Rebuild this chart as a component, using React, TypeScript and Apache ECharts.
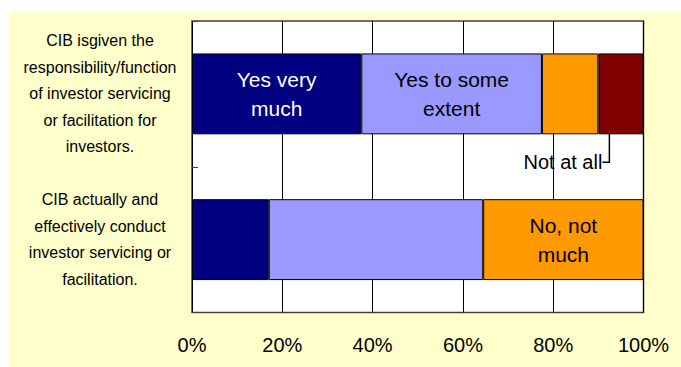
import React, { useEffect, useRef } from "react";
import * as echarts from "echarts";

const categories = [
  "CIB isgiven the\nresponsibility/function\nof investor servicing\nor facilitation for\ninvestors.",
  "CIB actually and\neffectively conduct\ninvestor servicing or\nfacilitation.",
];
const seriesNames = ["Yes very much", "Yes to some extent", "No, not much", "Not at all"];
const yesVeryMuch = [37.5, 17];
const yesToSomeExtent = [40, 47.5];
const noNotMuch = [12.5, 35.5];
const notAtAll = [10, 0];
const labelTexts = ["Yes very\nmuch", "Yes to some\nextent", "No, not\nmuch", "Not at all"];
const labelIndex = [0, 0, 1, 0];
const tickValues = [0, 20, 40, 60, 80, 100];

const colors = ["#000080", "#9999FF", "#FF9900", "#800000"];
const FONT = "'Liberation Sans', Arial, sans-serif";

export default function App() {
  const ref = useRef<HTMLDivElement>(null);
  useEffect(() => {
    if (!ref.current) return;
    const chart = echarts.init(ref.current, null, { renderer: "svg" });
    const allValues = [yesVeryMuch, yesToSomeExtent, noNotMuch, notAtAll];
    const series = allValues.map((vals, si) => {
      const isOutside = si === 3;
      return {
        name: seriesNames[si],
        type: "bar",
        stack: "total",
        barWidth: "55.5%",
        itemStyle: { color: colors[si], borderColor: "#000", borderWidth: 1 },
        data: vals.map((v, di) => {
          if (di !== labelIndex[si]) return v;
          return {
            value: v,
            label: {
              show: true,
              formatter: labelTexts[si],
              position: isOutside ? "bottom" : "inside",
              distance: 5,
              color: si === 0 ? "#fff" : "#000",
              fontFamily: FONT,
              fontSize: isOutside ? 20 : 21,
              lineHeight: isOutside ? 20 : 29,
            },
            labelLine: isOutside
              ? { show: true, length2: 7, lineStyle: { color: "#000", width: 1.5 } }
              : undefined,
          };
        }),
        labelLayout: isOutside ? { dx: -58, dy: 13 } : undefined,
        labelLine: isOutside
          ? { show: true, length2: 7, lineStyle: { color: "#000", width: 1.5 } }
          : undefined,
      };
    });
    chart.setOption({
      animation: false,
      backgroundColor: "#FFFFCC",
      graphic: [
        { type: "rect", shape: { x: 0, y: 0, width: 681, height: 12 }, style: { fill: "#fff" } },
        { type: "rect", shape: { x: 0, y: 0, width: 10, height: 367 }, style: { fill: "#fff" } },
      ],
      grid: {
        left: 192,
        top: 21,
        width: 451.5,
        height: 291.5,
        show: true,
        backgroundColor: "#fff",
        borderColor: "#404040",
        borderWidth: 1.5,
      },
      xAxis: {
        type: "value",
        min: tickValues[0],
        max: tickValues[tickValues.length - 1],
        interval: 20,
        axisLine: { show: false },
        axisTick: { show: false },
        splitLine: { show: true, lineStyle: { color: "#000", width: 1 } },
        axisLabel: {
          formatter: "{value}%",
          fontFamily: FONT,
          fontSize: 20,
          color: "#000",
          margin: 22,
        },
      },
      yAxis: {
        type: "category",
        inverse: true,
        data: categories,
        axisLine: { show: false },
        axisTick: { show: true, inside: true, length: 6, lineStyle: { color: "#404040" } },
        axisLabel: {
          fontFamily: FONT,
          fontSize: 16,
          lineHeight: 26.5,
          color: "#000",
          align: "center",
          margin: 92,
        },
      },
      series,
    });
    return () => chart.dispose();
  }, []);
  return (
    <div
      ref={ref}
      style={{ position: "absolute", left: 0, top: 0, width: 681, height: 367 }}
    />
  );
}
